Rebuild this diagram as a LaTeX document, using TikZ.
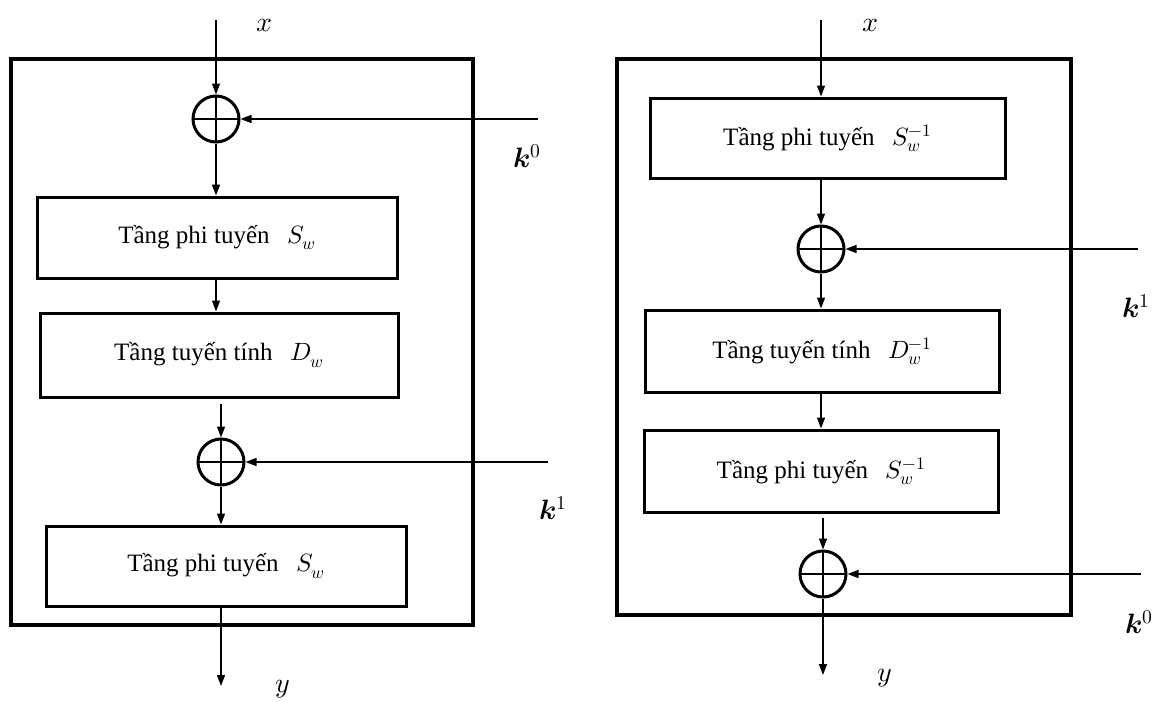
\documentclass[tikz,border=0pt]{standalone}
\usepackage{unicode-math}
\setmainfont{Liberation Serif}
\setmathfont{Latin Modern Math}
\usetikzlibrary{arrows.meta}
\begin{document}
\begin{tikzpicture}[x=1pt,y=-1pt,
  outerbox/.style={draw, line width=3.4pt, inner sep=0pt},
  stagebox/.style={draw, line width=3pt, inner sep=0pt, font=\fontsize{25}{30}\selectfont},
  xorop/.style={draw, circle, line width=3pt, minimum size=46pt, inner sep=0pt,
     path picture={\draw[line width=2.6pt] (path picture bounding box.north) -- (path picture bounding box.south)
        (path picture bounding box.east) -- (path picture bounding box.west);}},
  flow/.style={line width=1.5pt, -{Triangle[length=11pt,width=8pt]}},
  lab/.style={font=\fontsize{28}{32}\selectfont, inner sep=0pt},
]
\useasboundingbox (0,0) rectangle (1155,701);

% ---------- left diagram ----------
\node[outerbox, minimum width=462, minimum height=566] (LO) at (242,342) {};
\node[xorop] (LX0) at (216,119) {};
\node[stagebox, minimum width=360, minimum height=81] (LS1) at (217,237.5) {Tầng phi tuyến\hspace{0.7em}$S_w$};
\node[stagebox, minimum width=358, minimum height=84] (LD) at (219,355) {Tầng tuyến tính\hspace{0.7em}$D_w$};
\node[xorop] (LX1) at (221,462) {};
\node[stagebox, minimum width=360, minimum height=80] (LS2) at (226,566) {Tầng phi tuyến\hspace{0.7em}$S_w$};

\coordinate (LxIn) at (216,20);
\coordinate (Lk0) at (538,119);
\coordinate (Lk1) at (548,462);
\coordinate (LyOut) at (221,686);

\draw[flow] (LxIn) -- (LX0.north);
\draw[flow] (Lk0) -- (LX0.east);
\draw[flow] (LX0.south) -- (LX0.south |- LS1.north);
\draw[flow] (LX0.south |- LS1.south) -- (LX0.south |- LD.north);
\draw[flow] ([yshift=-5pt]LX1.north |- LD.south) -- (LX1.north);
\draw[flow] (Lk1) -- (LX1.east);
\draw[flow] (LX1.south) -- (LX1.south |- LS2.north);
\draw[flow] (LX1.south |- LS2.south) -- (LyOut);

\node[lab] (LxLab) at (265,25) {$x$};
\node[lab] (Lk0Lab) at (527,156) {$\symbfit{k}^0$};
\node[lab] (Lk1Lab) at (553,508) {$\symbfit{k}^1$};
\node[lab] (LyLab) at (283,689) {$y$};

% ---------- right diagram ----------
\node[outerbox, minimum width=454, minimum height=556] (RO) at (844,337) {};
\node[stagebox, minimum width=355, minimum height=80] (RS1) at (827.5,138) {Tầng phi tuyến\hspace{0.7em}$S_w^{-1}$};
\node[xorop] (RX1) at (821,249) {};
\node[stagebox, minimum width=354, minimum height=82] (RD) at (822,351) {Tầng tuyến tính\hspace{0.7em}$D_w^{-1}$};
\node[stagebox, minimum width=354, minimum height=82] (RS2) at (821,471) {Tầng phi tuyến\hspace{0.7em}$S_w^{-1}$};
\node[xorop] (RX0) at (823,574) {};

\coordinate (RxIn) at (821,20);
\coordinate (Rk1) at (1138,249);
\coordinate (Rk0) at (1141,574);
\coordinate (RyOut) at (823,675);

\draw[flow] (RxIn) -- (RxIn |- RS1.north);
\draw[flow] (RX1.north |- RS1.south) -- (RX1.north);
\draw[flow] (Rk1) -- (RX1.east);
\draw[flow] (RX1.south) -- (RX1.south |- RD.north);
\draw[flow] (RX1.south |- RD.south) -- (RX1.south |- RS2.north);
\draw[flow] ([yshift=-4pt]RX0.north |- RS2.south) -- (RX0.north);
\draw[flow] (Rk0) -- (RX0.east);
\draw[flow] (RX0.south) -- (RyOut);

\node[lab] (RxLab) at (870,25) {$x$};
\node[lab] (Rk1Lab) at (1136,306) {$\symbfit{k}^1$};
\node[lab] (Rk0Lab) at (1139,622) {$\symbfit{k}^0$};
\node[lab] (RyLab) at (885,678) {$y$};
\end{tikzpicture}
\end{document}
